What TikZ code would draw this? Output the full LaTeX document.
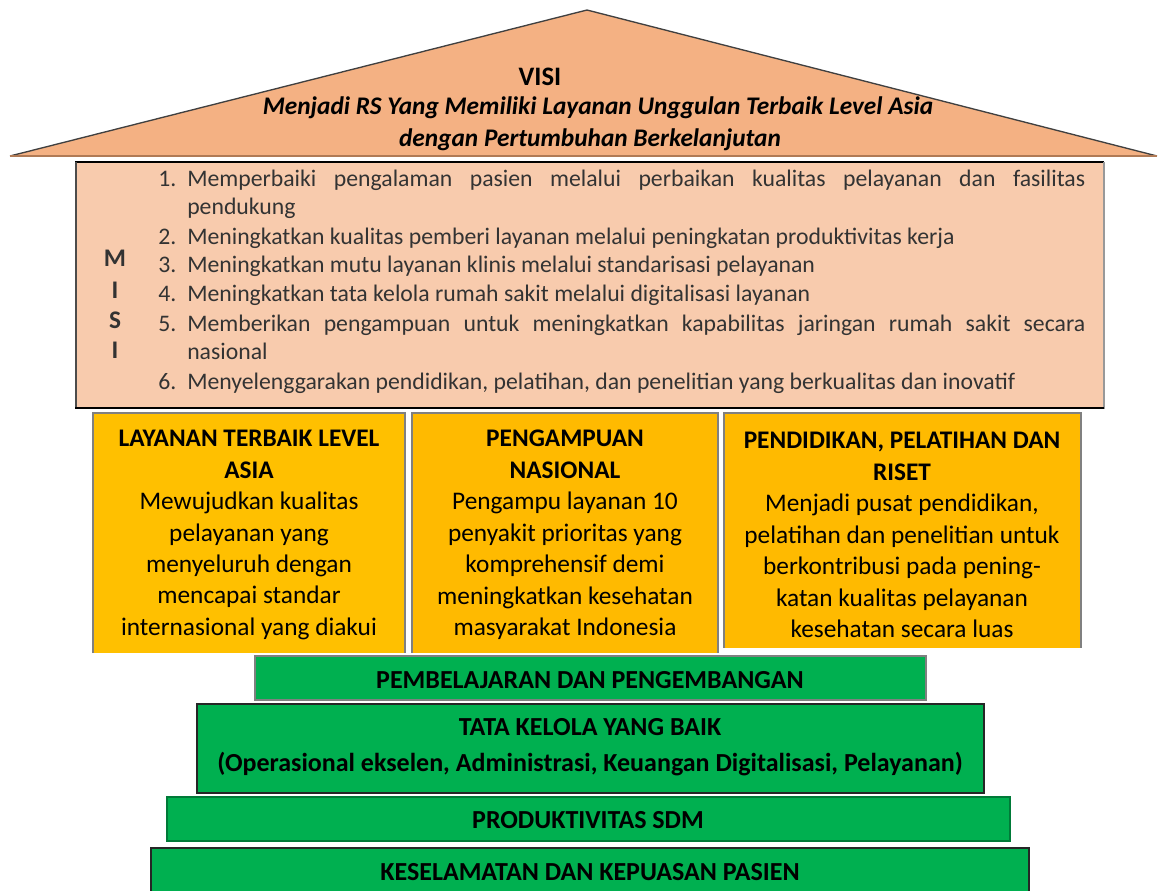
\documentclass[tikz,border=0pt]{standalone}
\usepackage{fontspec}
\setmainfont{Carlito}
\definecolor{rooffill}{HTML}{F4B183}
\definecolor{roofedge}{HTML}{B07A55}
\definecolor{misifill}{HTML}{F8CBAD}
\definecolor{yelA}{HTML}{FFC000}
\definecolor{yelB}{HTML}{FFBA00}
\definecolor{grn}{HTML}{00B050}
\definecolor{grnedge}{HTML}{007A38}
\definecolor{txtgray}{HTML}{333333}
\begin{document}
\begin{tikzpicture}[x=0.75pt,y=-0.75pt,
  misitxt/.style={anchor=mid west,inner sep=0pt,font=\fontsize{17.8pt}{21.75pt}\selectfont,text=txtgray},
  misiletter/.style={anchor=center,inner sep=0pt,font=\fontsize{19pt}{22pt}\selectfont\bfseries,text=txtgray},
  visititle/.style={anchor=center,inner sep=0pt,font=\fontsize{20pt}{22pt}\selectfont\bfseries},
  visitxt/.style={anchor=center,inner sep=0pt,font=\fontsize{19pt}{22pt}\selectfont\bfseries\itshape},
  pillartxt/.style={anchor=center,inner sep=0pt,align=center,font=\fontsize{19pt}{23.6pt}\selectfont},
  pillarbox/.style={draw=gray,line width=1.5pt},
  basetxt/.style={anchor=center,inner sep=0pt,align=center,font=\fontsize{19.5pt}{27pt}\selectfont\bfseries},
  basebox/.style={fill=grn,line width=1.5pt}
]
\useasboundingbox (0,0) rectangle (1158,890);

% roof (VISI)
\fill[rooffill] (10,156) -- (587,10) -- (1157,156) -- cycle;
\draw[black!75,line width=1pt] (10,156) -- (587,10) -- (1157,156);
\draw[roofedge,line width=2pt] (10,156) -- (1157,156);
\node[visititle] (visi) at (540,77) {VISI};
\node[visitxt] (visi1) at (598,108) {Menjadi RS Yang Memiliki Layanan Unggulan Terbaik Level Asia};
\node[visitxt] (visi2) at (590,140) {dengan Pertumbuhan Berkelanjutan};

% MISI box
\fill[misifill] (76,162) rectangle (1104,408);
\draw[black,line width=2.2pt] (75,162) -- (1104,162);
\draw[black!70,line width=1.5pt] (76,162) -- (76,408);
\draw[gray!80,line width=2.2pt] (1104,162) -- (1104,409);
\draw[black,line width=2.2pt] (75,408) -- (1104,408);

\node[misiletter] (m1) at (115,258) {M};
\node[misiletter] (m2) at (115,290) {I};
\node[misiletter] (m3) at (115,320) {S};
\node[misiletter] (m4) at (115,350) {I};

\node[misitxt] (n1) at (158,183) {1.};
\node[misitxt] (t1a) at (187,183) {\makebox[673.5pt][s]{Memperbaiki pengalaman pasien melalui perbaikan kualitas pelayanan dan fasilitas}};
\node[misitxt] (t1b) at (187,211) {pendukung};
\node[misitxt] (n2) at (158,241) {2.};
\node[misitxt] (t2) at (187,241) {Meningkatkan kualitas pemberi layanan melalui peningkatan produktivitas kerja};
\node[misitxt] (n3) at (158,269) {3.};
\node[misitxt] (t3) at (187,269) {Meningkatkan mutu layanan klinis melalui standarisasi pelayanan};
\node[misitxt] (n4) at (158,298) {4.};
\node[misitxt] (t4) at (187,298) {Meningkatkan tata kelola rumah sakit melalui digitalisasi layanan};
\node[misitxt] (n5) at (158,328) {5.};
\node[misitxt] (t5a) at (187,328) {\makebox[673.5pt][s]{Memberikan pengampuan untuk meningkatkan kapabilitas jaringan rumah sakit secara}};
\node[misitxt] (t5b) at (187,356) {nasional};
\node[misitxt] (n6) at (158,386) {6.};
\node[misitxt] (t6) at (187,386) {Menyelenggarakan pendidikan, pelatihan, dan penelitian yang berkualitas dan inovatif};

% pillars
\fill[yelA] (93,413) rectangle (405,653);
\draw[pillarbox] (93,653) -- (93,413) -- (405,413) -- (405,653);
\fill[yelB] (412,413) rectangle (718,653);
\draw[pillarbox] (412,653) -- (412,413) -- (718,413) -- (718,653);
\fill[yelB] (724,413) rectangle (1081,648);
\draw[pillarbox] (724,648) -- (724,413) -- (1081,413) -- (1081,648);

\node[pillartxt] (p1) at (249,535) {\textbf{LAYANAN TERBAIK LEVEL}\\\textbf{ASIA}\\Mewujudkan kualitas\\pelayanan yang\\menyeluruh dengan\\mencapai standar\\internasional yang diakui};
\node[pillartxt] (p2) at (565,535) {\textbf{PENGAMPUAN}\\\textbf{NASIONAL}\\Pengampu layanan 10\\penyakit prioritas yang\\komprehensif demi\\meningkatkan kesehatan\\masyarakat Indonesia};
\node[pillartxt] (p3) at (902,535) {\textbf{PENDIDIKAN, PELATIHAN DAN}\\\textbf{RISET}\\Menjadi pusat pendidikan,\\pelatihan dan penelitian untuk\\berkontribusi pada pening-\\katan kualitas pelayanan\\kesehatan secara luas};

% foundation steps
\draw[basebox,draw=gray] (255,656) rectangle (926,700);
\node[basetxt] (g1) at (590,680) {PEMBELAJARAN DAN PENGEMBANGAN};
\draw[basebox,draw=black!85] (197,704) rectangle (984,793);
\node[basetxt] (g2) at (590,747) {TATA KELOLA YANG BAIK\\(Operasional ekselen, Administrasi, Keuangan Digitalisasi, Pelayanan)};
\draw[basebox,draw=grnedge] (167,797) rectangle (1010,841);
\node[basetxt] (g3) at (588,820) {PRODUKTIVITAS SDM};
\fill[grn] (151,848) rectangle (1029,891);
\draw[black!85,line width=1.5pt] (151,891) -- (151,848) -- (1029,848) -- (1029,891);
\node[basetxt] (g4) at (590,872) {KESELAMATAN DAN KEPUASAN PASIEN};
\end{tikzpicture}
\end{document}
